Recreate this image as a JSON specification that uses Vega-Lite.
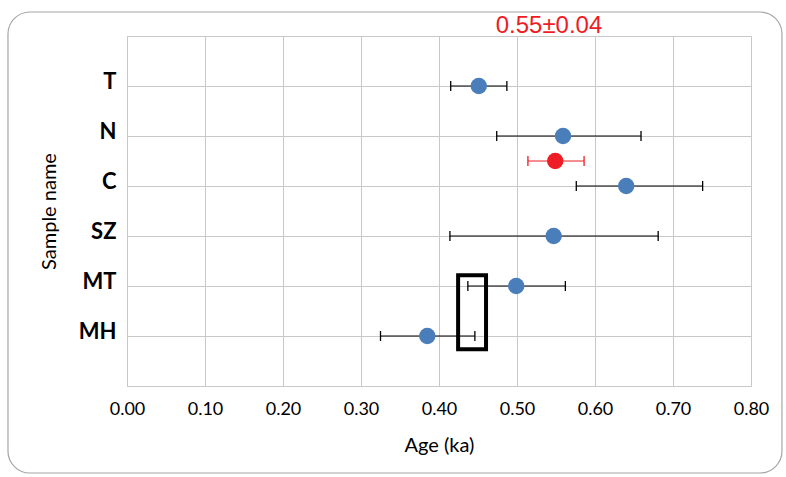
{
  "$schema": "https://vega.github.io/schema/vega-lite/v6.json",
  "width": 624,
  "height": 350,
  "autosize": {"type": "none"},
  "padding": {"left": 127, "top": 36, "right": 35, "bottom": 91},
  "background": "white",
  "config": {"view": {"stroke": null}, "font": "Lato"},
  "datasets": {
    "samples": [
      {"name": "T", "pos": 6, "age": 0.451, "lo": 0.415, "hi": 0.487, "kind": "sample"},
      {"name": "N", "pos": 5, "age": 0.559, "lo": 0.474, "hi": 0.659, "kind": "sample"},
      {"name": "Mean", "pos": 4.5, "age": 0.549, "lo": 0.514, "hi": 0.586, "kind": "mean"},
      {"name": "C", "pos": 4, "age": 0.640, "lo": 0.576, "hi": 0.738, "kind": "sample"},
      {"name": "SZ", "pos": 3, "age": 0.547, "lo": 0.414, "hi": 0.681, "kind": "sample"},
      {"name": "MT", "pos": 2, "age": 0.499, "lo": 0.437, "hi": 0.562, "kind": "sample"},
      {"name": "MH", "pos": 1, "age": 0.385, "lo": 0.325, "hi": 0.446, "kind": "sample"}
    ],
    "box": [{"x1": 0.4245, "x2": 0.4603, "y1": 2.214, "y2": 0.734}],
    "frame": [{"x1": -0.1526, "x2": 0.8397, "y1": 7.48, "y2": -1.74}],
    "label": [{"text": "0.55±0.04", "x": 0.541, "y": 7.06}]
  },
  "layer": [
    {
      "data": {"name": "frame"},
      "mark": {"type": "rect", "filled": false, "stroke": "#a6a6a6", "strokeWidth": 1.2, "cornerRadius": 22, "clip": false},
      "encoding": {
        "x": {
          "field": "x1", "type": "quantitative", "title": "Age (ka)",
          "scale": {"domain": [0, 0.8], "nice": false, "zero": false},
          "axis": {
            "values": [0, 0.1, 0.2, 0.3, 0.4, 0.5, 0.6, 0.7, 0.8],
            "format": ".2f",
            "grid": true, "gridColor": "#c8c8c8", "gridWidth": 1,
            "domainColor": "#c8c8c8", "ticks": false,
            "labelFlush": false, "labelOverlap": false,
            "labelFontSize": 18, "labelColor": "#000000", "labelPadding": 14,
            "titleFontSize": 20, "titleFontWeight": "normal", "titleColor": "#000000",
            "titleY": 65, "titleBaseline": "alphabetic"
          }
        },
        "x2": {"field": "x2"},
        "y": {
          "field": "y1", "type": "quantitative", "title": "Sample name",
          "scale": {"domain": [0, 7], "nice": false, "zero": false},
          "axis": {
            "values": [0, 1, 2, 3, 4, 5, 6, 7],
            "labelExpr": "['', 'MH', 'MT', 'SZ', 'C', 'N', 'T', ''][datum.value]",
            "grid": true, "gridColor": "#c8c8c8", "gridWidth": 1,
            "domainColor": "#c8c8c8", "ticks": false,
            "labelFlush": false, "labelOverlap": false,
            "labelFontSize": 22, "labelFontWeight": "bold", "labelColor": "#000000",
            "labelPadding": 11, "labelOffset": -5, "labelBaseline": "middle",
            "titleFontSize": 20, "titleFontWeight": "normal", "titleColor": "#000000",
            "titleX": -78, "titleY": 175, "titleBaseline": "middle", "titleAlign": "center"
          }
        },
        "y2": {"field": "y2"}
      }
    },
    {
      "data": {"name": "samples"},
      "mark": {"type": "rule", "strokeWidth": 1, "opacity": 1},
      "encoding": {
        "x": {"field": "lo", "type": "quantitative", "title": "Age (ka)"},
        "x2": {"field": "hi"},
        "y": {"field": "pos", "type": "quantitative", "title": "Sample name"},
        "stroke": {"field": "kind", "type": "nominal", "scale": {"domain": ["sample", "mean"], "range": ["#000000", "#EE1C24"]}, "legend": null}
      }
    },
    {
      "data": {"name": "samples"},
      "mark": {"type": "tick", "orient": "vertical", "size": 10, "thickness": 1.3, "opacity": 1},
      "encoding": {
        "x": {"field": "lo", "type": "quantitative", "title": "Age (ka)"},
        "y": {"field": "pos", "type": "quantitative", "title": "Sample name"},
        "color": {"field": "kind", "type": "nominal", "scale": {"domain": ["sample", "mean"], "range": ["#000000", "#EE1C24"]}, "legend": null}
      }
    },
    {
      "data": {"name": "samples"},
      "mark": {"type": "tick", "orient": "vertical", "size": 10, "thickness": 1.3, "opacity": 1},
      "encoding": {
        "x": {"field": "hi", "type": "quantitative", "title": "Age (ka)"},
        "y": {"field": "pos", "type": "quantitative", "title": "Sample name"},
        "color": {"field": "kind", "type": "nominal", "scale": {"domain": ["sample", "mean"], "range": ["#000000", "#EE1C24"]}, "legend": null}
      }
    },
    {
      "data": {"name": "samples"},
      "mark": {"type": "circle", "size": 270, "opacity": 1},
      "encoding": {
        "x": {"field": "age", "type": "quantitative", "title": "Age (ka)"},
        "y": {"field": "pos", "type": "quantitative", "title": "Sample name"},
        "fill": {"field": "kind", "type": "nominal", "scale": {"domain": ["sample", "mean"], "range": ["#4A7EBB", "#EE1C24"]}, "legend": null}
      }
    },
    {
      "data": {"name": "box"},
      "mark": {"type": "rect", "filled": false, "stroke": "#000000", "strokeWidth": 4},
      "encoding": {
        "x": {"field": "x1", "type": "quantitative", "title": "Age (ka)"},
        "x2": {"field": "x2"},
        "y": {"field": "y1", "type": "quantitative", "title": "Sample name"},
        "y2": {"field": "y2"}
      }
    },
    {
      "data": {"name": "label"},
      "mark": {"type": "text", "font": "Liberation Sans", "fontSize": 24, "color": "#EE1C24", "align": "center", "baseline": "alphabetic", "clip": false},
      "encoding": {
        "x": {"field": "x", "type": "quantitative", "title": "Age (ka)"},
        "y": {"field": "y", "type": "quantitative", "title": "Sample name"},
        "text": {"field": "text"}
      }
    }
  ]
}
